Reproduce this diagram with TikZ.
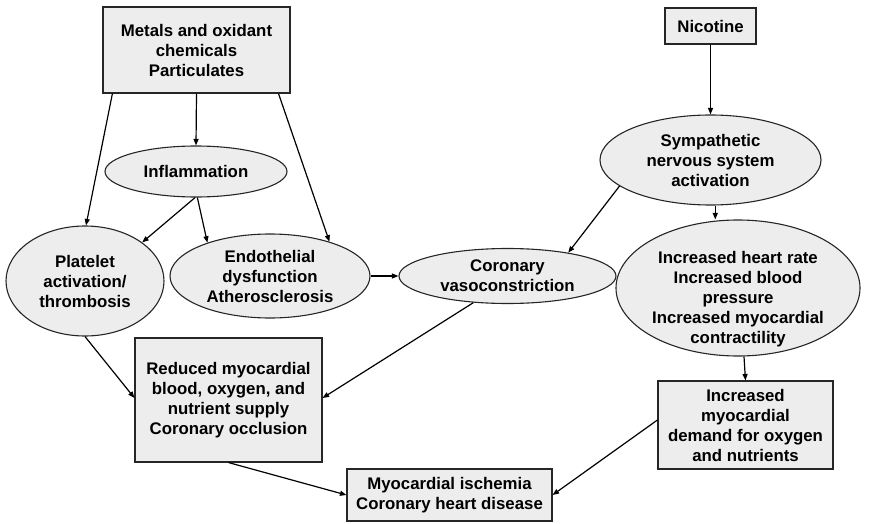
\documentclass[tikz,border=0pt]{standalone}
\usepackage{fontspec}
\setmainfont{Liberation Sans}
\usetikzlibrary{shapes.geometric,calc,arrows.meta}
\begin{document}
\begin{tikzpicture}[x=1pt,y=-1pt,
 every node/.style={font=\fontsize{16.8}{20}\selectfont\bfseries, align=center, text=black},
 boxn/.style={draw=black!85, fill=black!7, line width=1.1pt, rectangle, inner sep=0pt},
 ell/.style={draw=black!85, fill=black!7, line width=1.1pt, ellipse, inner sep=0pt},
 arr/.style={-{Triangle[length=6.5pt,width=5pt]}, line width=1.2pt, draw=black}
]
\useasboundingbox (0,0) rectangle (870,524);

% boxes
\node[boxn, minimum width=187pt, minimum height=86pt] (metals) at (196.5,50) {Metals and oxidant\\chemicals\\Particulates};
\node[boxn, minimum width=91pt, minimum height=36pt] (nic) at (710.5,26) {Nicotine};
\node[boxn, minimum width=187pt, minimum height=124pt] (red) at (228.5,400) {Reduced myocardial\\blood, oxygen, and\\nutrient supply\\Coronary occlusion};
\node[boxn, minimum width=175pt, minimum height=88pt] (dem) at (745.5,425) {Increased\\myocardial\\demand for oxygen\\and nutrients};
\node[boxn, minimum width=205pt, minimum height=52pt] (isch) at (449.5,495) {Myocardial ischemia\\Coronary heart disease};

% ellipses
\node[ell, minimum width=182pt, minimum height=51pt] (infl) at (196,171.5) {Inflammation};
\node[ell, minimum width=221pt, minimum height=90pt] (symp) at (710.5,160) {Sympathetic\\nervous system\\activation};
\node[ell, minimum width=158pt, minimum height=110pt] (plat) at (85,281) {Platelet\\activation/\\thrombosis};
\node[ell, minimum width=200pt, minimum height=84pt] (endo) at (270,276) {Endothelial\\dysfunction\\Atherosclerosis};
\node[ell, minimum width=217pt, minimum height=55pt] (cor) at (507.5,276) {Coronary\\vasoconstriction};
\node[ell, minimum width=244pt, minimum height=136pt] (hr) at (738,288) {};
\node (hrtext) at (738,299) {Increased heart rate\\Increased blood\\pressure\\Increased myocardial\\contractility};

% connectors
\draw[arr] (metals.south) -- (infl.north);
\draw[arr] ($(metals.south west)!0.053!(metals.south east)$) -- (plat.89);
\draw[arr] ($(metals.south west)!0.936!(metals.south east)$) -- (endo.30);
\draw[arr] (infl.-92) -- (plat.34);
\draw[arr] (infl.-87) -- (endo.152);
\draw[arr] (endo.east) -- (cor.west);
\draw[arr] (nic.south) -- (symp.north);
\draw[arr] (symp.196) -- (cor.21);
\draw[arr] (symp.-84) -- (symp.-84 |- hr.north);
\draw[arr] (hr.-85) -- (dem.north);
\draw[arr] (plat.south) -- ($(red.west)+(0,-2)$);
\draw[arr] (cor.218) -- ($(red.east)+(0,-2)$);
\draw[arr] (red.south) -- (isch.west);
\draw[arr] ($(dem.west)+(0,-5)$) -- (isch.east);
\end{tikzpicture}
\end{document}
